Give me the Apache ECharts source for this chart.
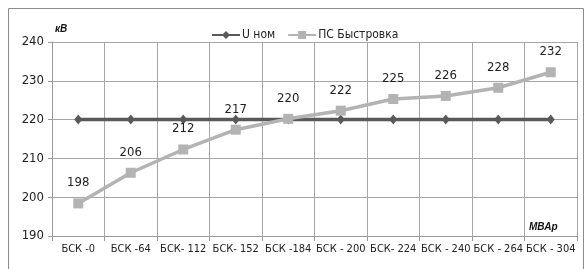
<!DOCTYPE html>
<html>
<head>
<meta charset="utf-8">
<script src="https://cdn.jsdelivr.net/npm/echarts@6/dist/echarts.min.js"></script>
<style>
html,body{margin:0;padding:0;background:#fff;}
#container{width:585px;height:269px;}
</style>
</head>
<body>
<div id="container"></div>
<script type="text/javascript">
	var categories = ['БСК -0', 'БСК -64', 'БСК- 112', 'БСК- 152', 'БСК -184', 'БСК - 200', 'БСК- 224', 'БСК - 240', 'БСК - 264', 'БСК - 304'];
	var uNom = [220, 220, 220, 220, 220, 220, 220, 220, 220, 220];
	var psBystrovka = [198.4, 206.3, 212.3, 217.4, 220.2, 222.3, 225.3, 226.1, 228.2, 232.2];
	var yTicks = [190, 200, 210, 220, 230, 240];

	var font = '"Liberation Sans Narrow", "DejaVu Sans Condensed", Arial, sans-serif';
	var myChart = echarts.init(document.getElementById('container'));
	var option = {
		animation: false,
		textStyle: { fontFamily: font },
		grid: { left: 52, right: 8, top: 42, bottom: 33 },
		legend: {
			top: 24,
			left: 206,
			itemWidth: 28,
			itemHeight: 10,
			itemGap: 12,
			textStyle: { fontSize: 12, color: '#222', fontFamily: font, padding: [0, 0, 0, -3] },
			data: ['U ном', 'ПС Быстровка']
		},
		graphic: [
			{ type: 'rect', shape: { x: 8.5, y: 8.5, width: 575, height: 270 }, style: { fill: 'none', stroke: '#8c8c8c', lineWidth: 1 } },
			{ type: 'text', left: 55, top: 24, style: { text: 'кВ', font: 'italic bold 10px Arial, sans-serif', fill: '#111' } },
			{ type: 'text', left: 529, top: 222, style: { text: 'МВАр', font: 'italic bold 10px Arial, sans-serif', fill: '#111' } }
		],
		xAxis: {
			type: 'category',
			boundaryGap: true,
			data: categories,
			axisLine: { lineStyle: { color: '#999' } },
			axisTick: { show: true, length: 5, lineStyle: { color: '#999' } },
			axisLabel: { interval: 0, fontSize: 11, color: '#222', margin: 8 },
			splitLine: { show: true, lineStyle: { color: '#a6a6a6' } }
		},
		yAxis: {
			type: 'value',
			min: yTicks[0],
			max: yTicks[yTicks.length - 1],
			interval: 10,
			axisLine: { show: true, lineStyle: { color: '#999' } },
			axisTick: { show: true, length: 4, lineStyle: { color: '#999' } },
			axisLabel: { fontSize: 13, color: '#222', margin: 8 },
			splitLine: { lineStyle: { color: '#a6a6a6' } }
		},
		series: [
			{
				name: 'U ном',
				type: 'line',
				data: uNom,
				symbol: 'diamond',
				symbolSize: [8, 10],
				itemStyle: { color: '#595959' },
				lineStyle: { color: '#595959', width: 3.5 },
				z: 3
			},
			{
				name: 'ПС Быстровка',
				type: 'line',
				data: psBystrovka,
				symbol: 'rect',
				symbolSize: 10,
				itemStyle: { color: '#b3b3b3' },
				lineStyle: { color: '#b3b3b3', width: 3.5 },
				label: {
					show: true,
					position: 'top',
					distance: 9,
					fontSize: 13,
					color: '#222',
					formatter: function (p) { return Math.round(p.value); }
				},
				z: 4
			}
		]
	};
	myChart.setOption(option);
</script>
</body>
</html>
